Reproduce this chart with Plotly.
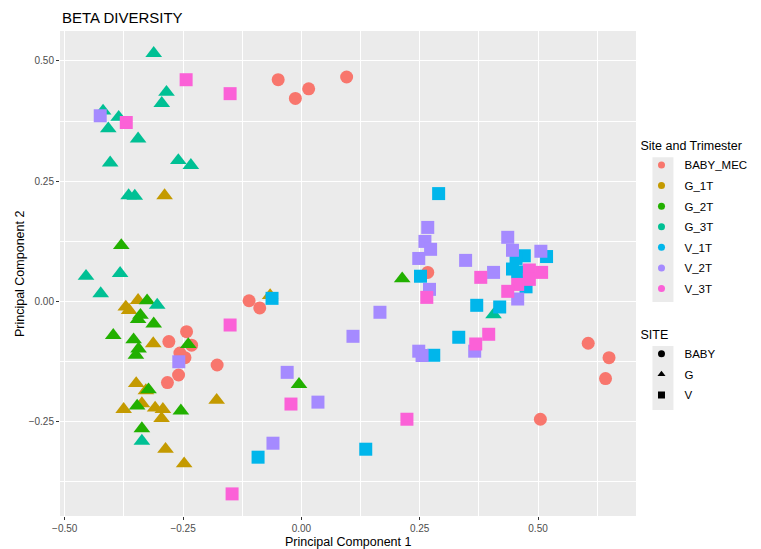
import plotly.graph_objects as go

# ---- data ----
baby_x = [-0.049, -0.0127, 0.0154, 0.0956, -0.1105, -0.088, 0.267, -0.2426, -0.280, -0.232,
          -0.2567, -0.246, -0.178, -0.2595, -0.283, 0.606, 0.650, 0.6426, 0.505]
baby_y = [0.461, 0.422, 0.442, 0.4667, 0.001, -0.014, 0.060, -0.0634, -0.084, -0.0915,
          -0.108, -0.1175, -0.1327, -0.1535, -0.1694, -0.0875, -0.1175, -0.161, -0.2456]

g1_x = [-0.289, -0.371, -0.345, -0.364, -0.313, -0.066, -0.349, -0.3285, -0.337, -0.3755,
        -0.309, -0.2926, -0.2954, -0.179, -0.287, -0.2477]
g1_y = [0.220, -0.012, 0.002, -0.019, -0.088, 0.012, -0.171, -0.186, -0.213, -0.225,
        -0.222, -0.225, -0.244, -0.206, -0.308, -0.338]

g2_x = [-0.3805, -0.326, -0.340, -0.345, -0.312, -0.3975, -0.3545, -0.239, -0.344, -0.3496,
        -0.323, -0.347, -0.2546, -0.337, 0.213, -0.005]
g2_y = [0.116, 0.001, -0.029, -0.038, -0.047, -0.071, -0.080, -0.090, -0.099, -0.112,
        -0.184, -0.218, -0.228, -0.265, 0.047, -0.173]

g3_x = [-0.312, -0.285, -0.295, -0.419, -0.386, -0.408, -0.345, -0.404, -0.260, -0.2335,
        -0.365, -0.352, -0.455, -0.383, -0.424, -0.3046, -0.337, 0.406]
g3_y = [0.516, 0.435, 0.412, 0.396, 0.383, 0.359, 0.338, 0.288, 0.293, 0.283,
        0.220, 0.219, 0.052, 0.058, 0.016, -0.008, -0.291, -0.028]

v1_x = [-0.062, 0.2517, 0.290, 0.2797, 0.3325, 0.3705, 0.419, -0.0915, 0.136,
        0.471, 0.4536, 0.518, 0.446, 0.457, 0.4747]
v1_y = [0.006, 0.052, 0.224, -0.1125, -0.075, -0.0085, -0.012, -0.3246, -0.308,
        0.0946, 0.089, 0.093, 0.067, 0.061, 0.030]

v2_x = [-0.425, -0.259, 0.166, 0.109, 0.248, 0.255, -0.030, 0.035, -0.060, 0.267,
        0.261, 0.273, 0.248, 0.2707, 0.347, 0.406, 0.3662, 0.436, 0.446, 0.506, 0.457]
v2_y = [0.386, -0.126, -0.023, -0.073, -0.104, -0.113, -0.148, -0.210, -0.2955, 0.1536,
        0.1245, 0.108, 0.089, 0.0247, 0.085, 0.060, -0.104, 0.133, 0.106, 0.104, 0.0046]

v3_x = [-0.2435, -0.1506, -0.370, -0.1506, -0.1464, 0.265, -0.022, 0.223, 0.379, 0.3958,
        0.3684, 0.4817, 0.5076, 0.4817, 0.457, 0.436]
v3_y = [0.461, 0.432, 0.372, -0.0495, -0.401, 0.008, -0.214, -0.2456, 0.0497, -0.0688,
        -0.089, 0.065, 0.060, 0.0455, 0.035, 0.0206]

groups = ["BABY_MEC", "G_1T", "G_2T", "G_3T", "V_1T", "V_2T", "V_3T"]
colors = ["#F8766D", "#C49A00", "#22B000", "#00C094", "#00B6EB", "#A58AFF", "#FB61D7"]
sites = ["BABY", "G", "V"]
site_symbols = {"BABY": "circle", "G": "triangle-up", "V": "square"}
group_site = ["BABY", "G", "G", "G", "V", "V", "V"]
xs = [baby_x, g1_x, g2_x, g3_x, v1_x, v2_x, v3_x]
ys = [baby_y, g1_y, g2_y, g3_y, v1_y, v2_y, v3_y]

x_ticks = [-0.50, -0.25, 0.00, 0.25, 0.50]
y_ticks = [-0.25, 0.00, 0.25, 0.50]

fig = go.Figure()
for g, c, s, x, y in zip(groups, colors, group_site, xs, ys):
    sym = site_symbols[s]
    size = 14.5 if sym == "triangle-up" else 13
    fig.add_trace(go.Scatter(x=x, y=y, mode="markers", name=g, showlegend=False,
                             marker=dict(color=c, symbol=sym, size=size, line=dict(width=0))))

# legend entries: colour
for g, c in zip(groups, colors):
    fig.add_trace(go.Scatter(x=[None], y=[None], mode="markers", name=g, legend="legend",
                             legendgroup="c_" + g,
                             marker=dict(color=c, symbol="circle", size=7)))
# legend entries: shape
for s in sites:
    fig.add_trace(go.Scatter(x=[None], y=[None], mode="markers", name=s, legend="legend2",
                             legendgroup="s_" + s,
                             marker=dict(color="black", symbol=site_symbols[s], size=7)))

OFF = 8  # page body margin
W, H = 761 - OFF, 549 - OFF
L, R, T, B = 59.5 - OFF, 636.5 - OFF, 30.7 - OFF, 516.2 - OFF
pw, ph = R - L, B - T
def px2x(p): return (p - OFF - L) / pw
def py2y(p): return (B - (p - OFF)) / ph

shapes = [
    dict(type="rect", xref="paper", yref="paper", x0=px2x(653), x1=px2x(674),
         y0=py2y(302), y1=py2y(157), fillcolor="#ebebeb", line=dict(width=0), layer="below"),
    dict(type="rect", xref="paper", yref="paper", x0=px2x(653), x1=px2x(674),
         y0=py2y(410), y1=py2y(346), fillcolor="#ebebeb", line=dict(width=0), layer="below"),
]

font = "Liberation Sans, Arial, Helvetica, sans-serif"
axis_common = dict(showgrid=True, gridcolor="white", gridwidth=1.1, zeroline=False,
                   ticks="outside", ticklen=3, tickcolor="#333333", tickwidth=1,
                   tickfont=dict(size=10, color="#4d4d4d", family=font),
                   tickformat=".2f", showline=False, automargin=False,
                   minor=dict(showgrid=True, gridcolor="white", gridwidth=0.5, ticks=""))

annotations = [
    dict(text="Principal Component 1", xref="paper", yref="paper", x=0.5,
         y=py2y(542.5), xanchor="center", yanchor="middle", showarrow=False,
         font=dict(size=12.5, color="black", family=font)),
    dict(text="Principal Component 2", xref="paper", yref="paper", x=px2x(19),
         y=0.5, xanchor="center", yanchor="middle", showarrow=False, textangle=-90,
         font=dict(size=12.5, color="black", family=font)),
    dict(text="BETA DIVERSITY", xref="paper", yref="paper", x=px2x(59), y=py2y(17),
         xanchor="left", yanchor="middle", showarrow=False,
         font=dict(size=15, color="black", family=font)),
]

fig.update_layout(
    width=W, height=H,
    margin=dict(l=L, r=W - R, t=T, b=H - B, autoexpand=False),
    paper_bgcolor="white", plot_bgcolor="#ebebeb",
    font=dict(family=font, color="black"),
    xaxis=dict(range=[-0.510, 0.707], tickvals=x_ticks, **axis_common),
    yaxis=dict(range=[-0.447, 0.5624], tickvals=y_ticks, **axis_common),
    legend=dict(title=dict(text="Site and Trimester", font=dict(size=12.5)),
                x=px2x(639), xanchor="left", y=py2y(134), yanchor="top",
                bgcolor="rgba(0,0,0,0)", font=dict(size=11.5), itemwidth=36,
                tracegroupgap=1.6),
    legend2=dict(title=dict(text="SITE", font=dict(size=12.5)),
                 x=px2x(639), xanchor="left", y=py2y(323), yanchor="top",
                 bgcolor="rgba(0,0,0,0)", font=dict(size=11.5), itemwidth=36,
                 tracegroupgap=1.6),
    shapes=shapes,
    annotations=annotations,
)
fig.update_xaxes(minor_dtick=0.125, minor_tick0=0.125)
fig.update_yaxes(minor_dtick=0.125, minor_tick0=0.125)

fig.write_html("out.html")
